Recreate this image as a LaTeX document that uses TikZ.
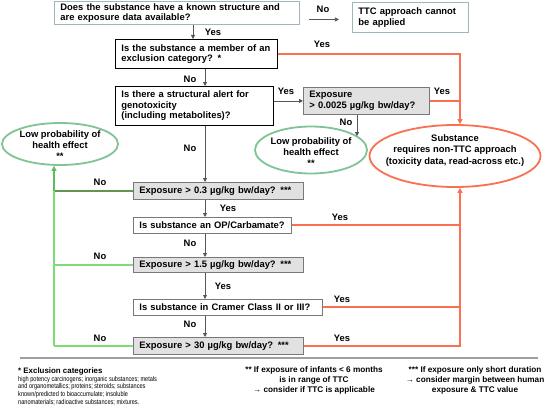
\documentclass[tikz,border=0pt]{standalone}
\usepackage{fontspec}
\setmainfont{Liberation Sans}
\newfontfamily\narrowfont[FakeStretch=0.8]{Liberation Sans}
\usetikzlibrary{arrows.meta,shapes.geometric}
\definecolor{org}{RGB}{250,112,80}
\definecolor{egrn}{RGB}{128,196,150}
\definecolor{lgrn}{RGB}{125,220,115}
\definecolor{mgrn}{RGB}{90,190,90}
\definecolor{dgrn}{RGB}{95,150,80}
\definecolor{bbord}{RGB}{160,180,188}
\definecolor{gfill}{RGB}{225,225,225}
\definecolor{gbord}{RGB}{120,120,120}
\definecolor{conn}{RGB}{85,85,85}
\begin{document}
\begin{tikzpicture}[x=1pt,y=-1pt,
  font=\fontsize{9.4}{10.6}\selectfont\bfseries,
  base/.style={align=left, inner xsep=6pt, inner ysep=0pt, anchor=north west, line width=0.9pt},
  lbox/.style={base, draw=bbord, fill=white},
  kbox/.style={base, draw=black, fill=white},
  gbox/.style={base, draw=gbord, fill=gfill},
  wbox/.style={base, draw=gbord, fill=white},
  gell/.style={ellipse, draw=egrn, line width=1.8pt, inner sep=0pt},
  oell/.style={ellipse, draw=org, line width=1.8pt, inner sep=0pt},
  etext/.style={align=center, inner sep=0pt, font=\fontsize{9.4}{11}\selectfont\bfseries},
  arr/.style={draw=conn, line width=0.8pt, -{Triangle[length=4pt,width=4pt]}},
  oline/.style={draw=org, line width=2pt},
  otip/.style={draw=org, line width=2pt, -{Triangle[length=5pt,width=5pt]}},
  lbl/.style={inner sep=0pt}
]
\useasboundingbox (0,0) rectangle (553,412);
\fill[white] (0,0) rectangle (553,412);

% boxes
\node[lbox, text width=233pt, minimum height=23pt] (q1) at (54,1)
  {Does the substance have a known structure and\\are exposure data available?};
\node[lbox, text width=104pt, minimum height=30pt] (ttc) at (352,2)
  {TTC approach cannot\\be applied};
\node[kbox, text width=150pt, minimum height=29pt] (q2) at (115,39)
  {Is the substance a member of an\\exclusion category? *};
\node[kbox, text width=146pt, minimum height=39pt] (q3) at (115,86)
  {Is there a structural alert for\\genotoxicity\\(including metabolites)?};
\node[gbox, text width=114pt, minimum height=27pt] (e1) at (303,87)
  {Exposure\\> 0.0025 µg/kg bw/day?};
\node[gbox, text width=158pt, minimum height=17pt] (x03) at (133,182)
  {Exposure > 0.3 µg/kg bw/day? ***};
\node[wbox, text width=146pt, minimum height=16pt] (op) at (133,217)
  {Is substance an OP/Carbamate?};
\node[gbox, text width=158pt, minimum height=15pt] (x15) at (133,257)
  {Exposure > 1.5 µg/kg bw/day? ***};
\node[wbox, text width=177pt, minimum height=16pt] (cr) at (133,299)
  {Is substance in Cramer Class II or III?};
\node[gbox, text width=158pt, minimum height=17pt] (x30) at (133,337)
  {Exposure > 30 µg/kg bw/day? ***};

% ellipses
\node[gell, minimum width=116pt, minimum height=42pt] (lowL) at (60,144) {};
\node[etext] (lowLt) at (60,145) {Low probability of\\health effect\\**};
\node[gell, minimum width=112pt, minimum height=47pt] (lowM) at (311,150) {};
\node[etext] (lowMt) at (311,152.5) {Low probability of\\health effect\\**};
\node[oell, minimum width=171pt, minimum height=62pt] (big) at (455,156) {};
\node[etext, font=\fontsize{9.4}{11.8}\selectfont\bfseries] (bigt) at (455,150.5)
  {Substance\\requires non-TTC approach\\(toxicity data, read-across etc.)};

% helper coordinates
\coordinate (sx) at (193,0);
\coordinate (sp) at (205,0);
\coordinate (ox) at (460,0);
\coordinate (gx) at (54,0);
\coordinate (ex) at (357,0);

% grey connectors
\draw[arr] ([xshift=9pt,yshift=-6.5pt]q1.east) -- ++(30pt,0);
\draw[arr] (q1.south -| sx) -- (q2.north -| sx);
\draw[arr] (q2.south -| sp) -- (q3.north -| sp);
\draw[arr] (q3.east |- e1.west) -- (e1.west);
\draw[arr] (e1.south -| ex) -- ([xshift=46pt,yshift=-10.5pt]lowM.north);
\draw[arr] (q3.south -| sp) -- (x03.north -| sp);
\draw[arr] (x03.south -| sp) -- (op.north -| sp);
\draw[arr] (op.south -| sp) -- (x15.north -| sp);
\draw[arr] (x15.south -| sp) -- (cr.north -| sp);
\draw[arr] (cr.south -| sp) -- (x30.north -| sp);

% orange connectors
\draw[otip] (q2.east) -| ([xshift=5pt]big.north);
\draw[oline] (e1.east) -- (e1.east -| ox);
\draw[oline] (op.east) -- (op.east -| ox);
\draw[oline] (cr.east) -- (cr.east -| ox);
\draw[otip] (x30.east) -| ([xshift=5pt]big.south);

% green connectors
\draw[dgrn, line width=1.8pt] (x03.west) -- (gx |- x03.west);
\draw[lgrn, line width=1.8pt] (x15.west) -- (gx |- x15.west);
\draw[lgrn, line width=1.8pt] (x30.west) -- (gx |- x30.west);
\draw[lgrn, line width=1.8pt] (gx |- x30.west) -- (gx |- x03.west);
\draw[mgrn, line width=1.8pt, -{Triangle[length=5pt,width=5pt]}] (gx |- x03.west) -- ([xshift=-6pt]lowL.south);

% labels
\node[lbl] (l1) at (323,9) {No};
\node[lbl] (l2) at (213,32) {Yes};
\node[lbl] (l3) at (322,44) {Yes};
\node[lbl] (l4) at (190,79) {No};
\node[lbl] (l5) at (286,91) {Yes};
\node[lbl] (l6) at (442,91) {Yes};
\node[lbl] (l7) at (346,122) {No};
\node[lbl] (l8) at (190,148) {No};
\node[lbl] (l9) at (100,182) {No};
\node[lbl] (l10) at (228,208) {Yes};
\node[lbl] (l11) at (340,217) {Yes};
\node[lbl] (l12) at (190,243) {No};
\node[lbl] (l13) at (100,256) {No};
\node[lbl] (l14) at (223,286) {Yes};
\node[lbl] (l15) at (342,299) {Yes};
\node[lbl] (l16) at (190,324) {No};
\node[lbl] (l17) at (100,338) {No};
\node[lbl] (l18) at (342,338) {Yes};

% separator
\draw[gray!75, line width=2.2pt] (20,358) -- (538,358);

% footnotes
\node[anchor=west, inner sep=0pt, font=\fontsize{7.9}{9}\selectfont\bfseries] (f1) at (18,371) {* Exclusion categories};
\node[anchor=north west, inner sep=0pt, align=left, font=\narrowfont\fontsize{7}{7.7}\selectfont] (f1b) at (18,376)
  {high potency carcinogens; inorganic substances; metals\\and organometallics; proteins; steroids; substances\\known/predicted to bioaccumulate; insoluble\\nanomaterials; radioactive substances; mixtures.};
\node[anchor=north, inner sep=0pt, align=center, font=\fontsize{8.2}{10}\selectfont\bfseries] (f2) at (314,366.5)
  {** If exposure of infants < 6 months\\is in range of TTC\\→ consider if TTC is applicable};
\node[anchor=north, inner sep=0pt, align=center, font=\fontsize{8.2}{10}\selectfont\bfseries] (f3) at (475,366.5)
  {*** If exposure only short duration\\→ consider margin between human\\exposure \& TTC value};
\end{tikzpicture}
\end{document}
